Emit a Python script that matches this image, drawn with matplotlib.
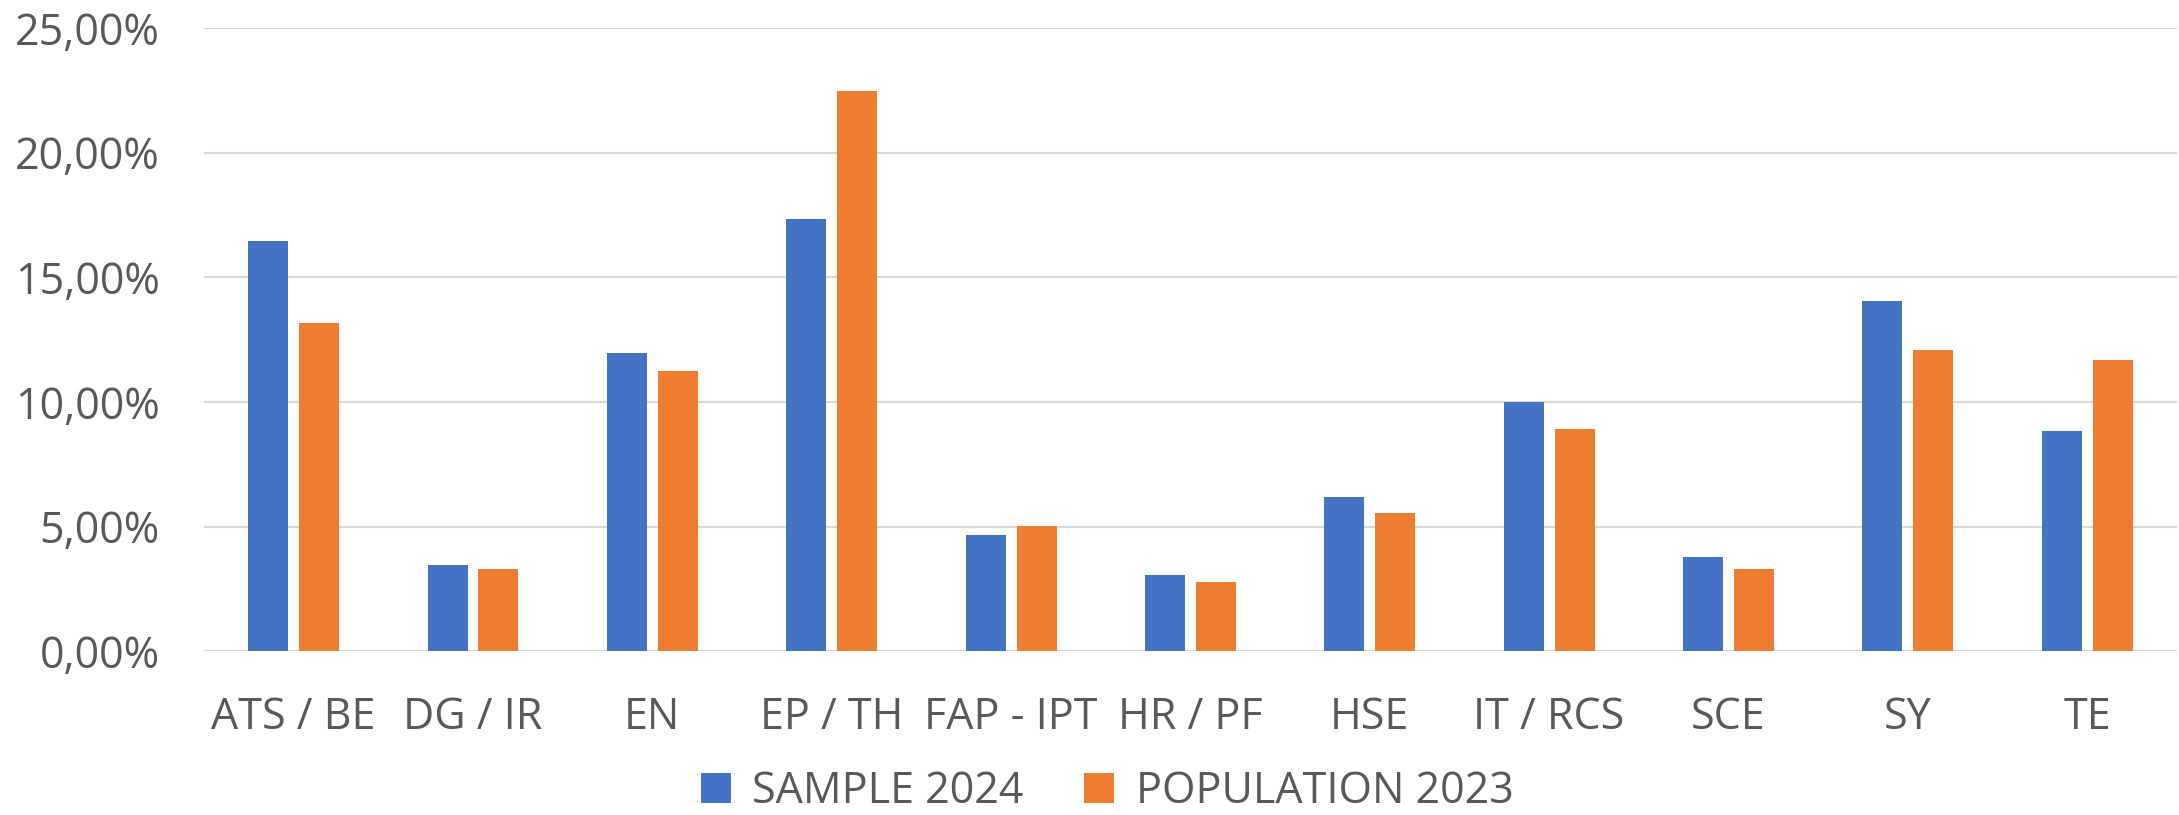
import matplotlib
matplotlib.use('Agg')
import matplotlib.pyplot as plt
import numpy as np
from matplotlib.ticker import FuncFormatter

categories = ['ATS / BE', 'DG / IR', 'EN', 'EP / TH', 'FAP - IPT', 'HR / PF',
              'HSE', 'IT / RCS', 'SCE', 'SY', 'TE']
sample_2024 = [16.45, 3.46, 11.98, 17.35, 4.67, 3.06, 6.17, 9.98, 3.77, 14.06, 8.85]
population_2023 = [13.17, 3.31, 11.25, 22.46, 5.02, 2.79, 5.54, 8.90, 3.31, 12.10, 11.69]

plt.rcParams['font.family'] = ['Open Sans', 'DejaVu Sans']
grey = '#595959'

fig = plt.figure(figsize=(21.79, 8.15), dpi=100)
ax = fig.add_axes([0.0936, 0.201, 0.9054, 0.7646])

x = np.arange(len(categories))
w = 0.223
off = 0.142
ax.bar(x - off, sample_2024, w, color='#4472C4', label='SAMPLE 2024', zorder=3)
ax.bar(x + off, population_2023, w, color='#ED7D31', label='POPULATION 2023', zorder=3)

ax.set_xlim(-0.5, len(categories) - 0.5)
ax.set_ylim(0, 25)
ax.set_yticks(np.arange(0, 26, 5))
ax.yaxis.set_major_formatter(FuncFormatter(lambda v, p: ('%.2f%%' % v).replace('.', ',')))
ax.set_xticks(x)
ax.set_xticklabels(categories)

ax.grid(axis='y', color='#d9d9d9', linewidth=1.5, zorder=0)
for s in ax.spines.values():
    s.set_visible(False)
ax.tick_params(length=0, labelsize=31, labelcolor=grey)
ax.tick_params(axis='x', pad=32)
ax.tick_params(axis='y', pad=32)

fig.legend(loc='center', bbox_to_anchor=(0.508, 0.028), ncol=2, frameon=False,
           fontsize=31, labelcolor=grey, handlelength=0.7, handleheight=0.7,
           columnspacing=1.4, handletextpad=0.5, borderpad=0)

plt.savefig('out.png', dpi=100)
